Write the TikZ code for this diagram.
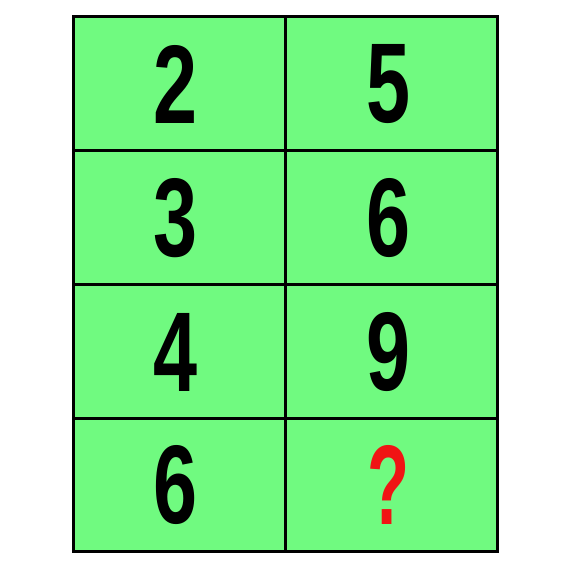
\documentclass[tikz,border=0pt]{standalone}
\usepackage{fontspec}
\setmainfont{Liberation Sans}
\usepackage{graphicx}
\definecolor{cellgreen}{RGB}{112,250,128}
\definecolor{qred}{RGB}{240,20,20}
\newcommand{\dig}[1]{\resizebox{44pt}{78pt}{\bfseries #1}}
\begin{document}
\begin{tikzpicture}[x=1pt,y=-1pt,
  cellbox/.style={draw=black,line width=3pt,fill=cellgreen,minimum width=212pt,minimum height=134pt,inner sep=0pt,anchor=north west},
  digit/.style={inner sep=0pt,text=black},
  qmark/.style={inner sep=0pt,text=qred}]
\useasboundingbox (0,0) rectangle (574,575);
\fill[white] (0,0) rectangle (574,575);
\node[cellbox] (c11) at (72,15) {};
\node[cellbox] (c12) at (284,15) {};
\node[cellbox] (c21) at (72,149) {};
\node[cellbox] (c22) at (284,149) {};
\node[cellbox] (c31) at (72,283) {};
\node[cellbox] (c32) at (284,283) {};
\node[cellbox,minimum height=133pt] (c41) at (72,417) {};
\node[cellbox,minimum height=133pt] (c42) at (284,417) {};
\node[digit] (d11) at (176,84) {\dig{2}};
\node[digit] (d12) at (389,84) {\dig{5}};
\node[digit] (d21) at (176,218) {\dig{3}};
\node[digit] (d22) at (389,218) {\dig{6}};
\node[digit] (d31) at (176,352) {\dig{4}};
\node[digit] (d32) at (389,352) {\dig{9}};
\node[digit] (d41) at (176,485) {\dig{6}};
\node[qmark] (q) at (389,485) {\resizebox{42pt}{79pt}{\bfseries ?}};
\end{tikzpicture}
\end{document}
